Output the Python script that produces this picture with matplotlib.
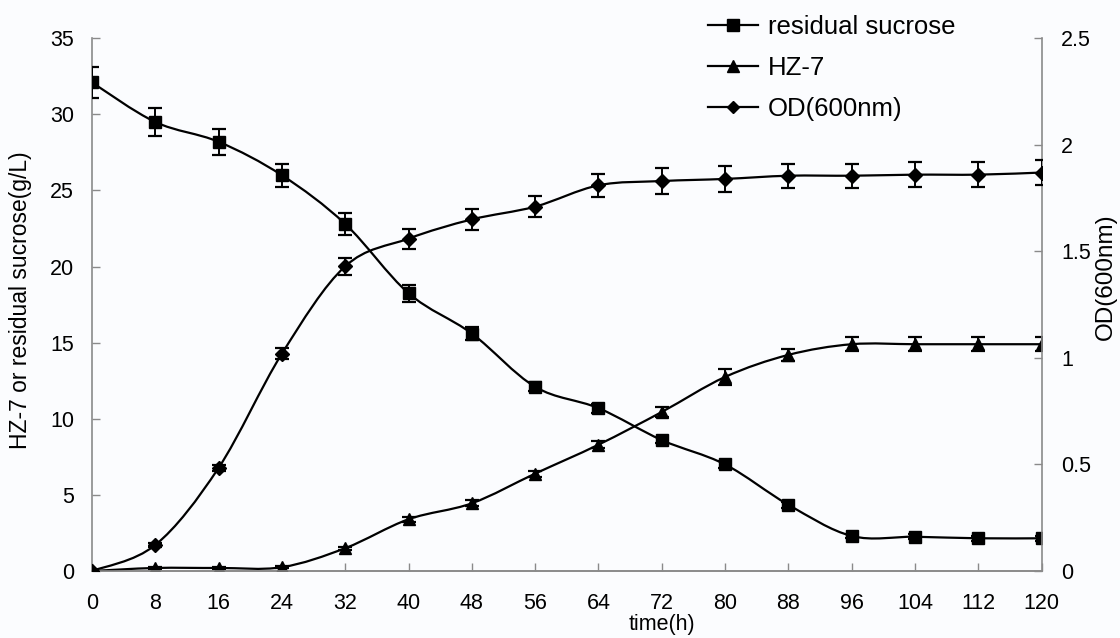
import matplotlib
matplotlib.use('Agg')
from matplotlib import pyplot as plt
from matplotlib.path import Path
from matplotlib.patches import PathPatch
from matplotlib.lines import Line2D
import numpy as np

plt.rcParams['font.family'] = ['Liberation Sans', 'DejaVu Sans']

time_h = [0, 8, 16, 24, 32, 40, 48, 56, 64, 72, 80, 88, 96, 104, 112, 120]

sucrose = [32.1, 29.5, 28.2, 26.0, 22.8, 18.25, 15.6, 12.1, 10.7, 8.6, 7.0, 4.35, 2.3, 2.25, 2.15, 2.15]
sucrose_err = [1.0, 0.9, 0.85, 0.75, 0.7, 0.55, 0.45, 0.3, 0.3, 0.2, 0.2, 0.2, 0.15, 0.15, 0.15, 0.15]

hz7 = [0.0, 0.2, 0.2, 0.25, 1.5, 3.4, 4.45, 6.4, 8.3, 10.45, 12.75, 14.2, 14.9, 14.9, 14.9, 14.9]
hz7_err = [0.05, 0.05, 0.05, 0.05, 0.1, 0.15, 0.2, 0.2, 0.25, 0.3, 0.5, 0.4, 0.45, 0.45, 0.45, 0.45]

od = [0.0, 0.122, 0.484, 1.02, 1.43, 1.56, 1.65, 1.71, 1.81, 1.83, 1.84, 1.855, 1.855, 1.86, 1.86, 1.87]
od_err = [0.005, 0.01, 0.015, 0.025, 0.04, 0.047, 0.05, 0.05, 0.053, 0.06, 0.06, 0.056, 0.056, 0.06, 0.06, 0.06]


def smooth_path(x, y):
    """Excel-like smoothed line as cubic Bezier segments through the points"""
    p = np.column_stack([x, y]).astype(float)
    ext = np.vstack([p[0], p, p[-1]])
    verts = [p[0]]
    codes = [Path.MOVETO]
    for i in range(len(p) - 1):
        p0, p1, p2, p3 = ext[i], ext[i + 1], ext[i + 2], ext[i + 3]
        verts += [p1 + (p2 - p0) / 6, p2 - (p3 - p1) / 6, p2]
        codes += [Path.CURVE4] * 3
    return Path(verts, codes)


def draw_series(ax, y, err, marker, ms):
    ax.add_patch(PathPatch(smooth_path(time_h, y), fill=False, edgecolor='black', lw=1.6, zorder=3))
    ax.errorbar(time_h, y, yerr=err, fmt='none', ecolor='black', elinewidth=1.4,
                capsize=5, capthick=1.6, zorder=4)
    ax.plot(time_h, y, linestyle='none', marker=marker, color='black', ms=ms, zorder=5)


bg = '#fbfcfe'
fig = plt.figure(figsize=(11.2, 6.38), dpi=100, facecolor=bg)
ax = fig.add_axes([0.0821, 0.105, 0.848, 0.835], facecolor=bg)
ax2 = ax.twinx()

draw_series(ax, sucrose, sucrose_err, 's', 9)
draw_series(ax, hz7, hz7_err, '^', 9)
draw_series(ax2, od, od_err, 'D', 7)

ax.set_xlim(0, 120)
ax.set_ylim(0, 35)
ax2.set_ylim(0, 2.5)
ax.set_xticks(time_h)
ax.set_yticks(np.arange(0, 36, 5))
ax2.set_yticks([0, 0.5, 1, 1.5, 2, 2.5])
ax2.set_yticklabels(['0', '0.5', '1', '1.5', '2', '2.5'])

for a in (ax, ax2):
    a.spines['top'].set_visible(False)
    for s in a.spines.values():
        s.set_color('#8a8a8a')
        s.set_linewidth(1.2)
    a.tick_params(direction='in', length=6, width=1, color='#8a8a8a', labelsize=15.5)
ax2.spines['left'].set_visible(False)
ax.spines['right'].set_visible(False)
ax.tick_params(axis='x', pad=16)
ax.tick_params(axis='y', pad=13)
ax2.tick_params(axis='y', pad=14)

ax.set_xlabel('time(h)', fontsize=15.5)
ax.xaxis.set_label_coords(0.6, -0.081)
ax.set_ylabel('HZ-7 or residual sucrose(g/L)', fontsize=16.5)
ax.yaxis.set_label_coords(-0.063, 0.508)
ax2.set_ylabel('OD(600nm)', fontsize=17.5)
ax2.yaxis.set_label_coords(1.056, 0.553)

handles = [
    Line2D([], [], color='black', lw=1.6, marker='s', ms=8),
    Line2D([], [], color='black', lw=1.6, marker='^', ms=8),
    Line2D([], [], color='black', lw=1.6, marker='D', ms=6),
]
fig.legend(handles, ['residual sucrose', 'HZ-7', 'OD(600nm)'], loc='upper left',
           bbox_to_anchor=(0.632, 0.977), frameon=False, fontsize=18.5,
           borderpad=0, borderaxespad=0, handlelength=1.95,
           labelspacing=0.66, handletextpad=0.4)

fig.savefig('out.png', dpi=100, facecolor=bg)
